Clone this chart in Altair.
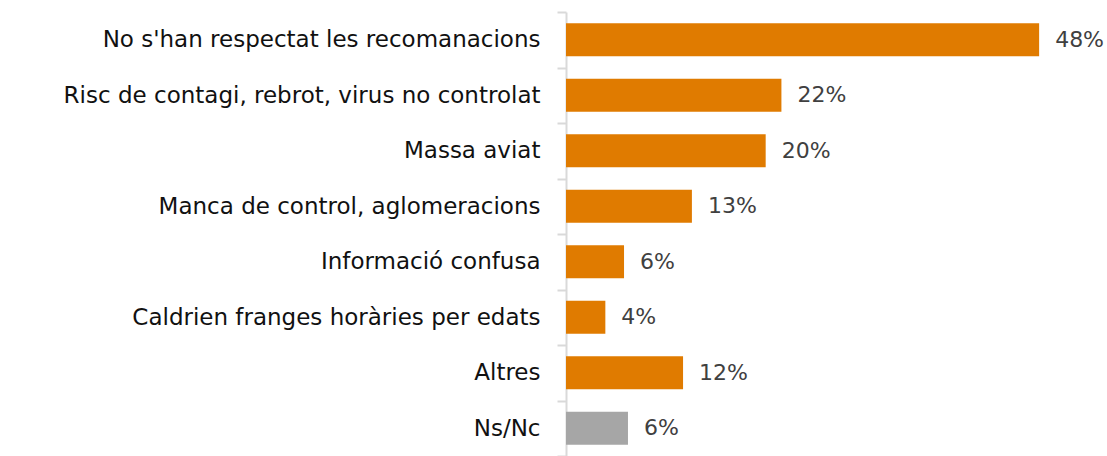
import altair as alt
import pandas as pd

categories = [
    "No s'han respectat les recomanacions",
    "Risc de contagi, rebrot, virus no controlat",
    "Massa aviat",
    "Manca de control, aglomeracions",
    "Informació confusa",
    "Caldrien franges horàries per edats",
    "Altres",
    "Ns/Nc",
]
values = [48.1, 21.9, 20.3, 12.8, 5.9, 4.0, 11.9, 6.3]
labels = ["48%", "22%", "20%", "13%", "6%", "4%", "12%", "6%"]
groups = ["main"] * 7 + ["nsnc"]

df = pd.DataFrame({"cat": categories, "val": values, "lab": labels, "grp": groups})

y = alt.Y(
    "cat:N",
    sort=categories,
    title=None,
    scale=alt.Scale(paddingInner=0, paddingOuter=0),
    axis=alt.Axis(
        labelFont="DejaVu Sans",
        labelFontSize=23,
        labelColor="#111111",
        labelPadding=17,
        labelLimit=700,
        tickSize=9,
        tickColor="#D9D9D9",
        tickWidth=2,
        tickBand="extent",
        domainColor="#D9D9D9",
        domainWidth=2,
        grid=False,
    ),
)
x = alt.X("val:Q", scale=alt.Scale(domain=[0, 55]), axis=None)

bars = alt.Chart(df).mark_bar(height={"band": 0.595}).encode(
    y=y,
    x=x,
    color=alt.Color(
        "grp:N",
        scale=alt.Scale(domain=["main", "nsnc"], range=["#E07B00", "#A6A6A6"]),
        legend=None,
    ),
)

text = alt.Chart(df).mark_text(
    align="left", baseline="middle", dx=16, font="DejaVu Sans", fontSize=22, color="#404040"
).encode(y=alt.Y("cat:N", sort=categories), x=x, text="lab:N")

chart = (
    alt.layer(bars, text)
    .properties(
        width=541,
        height=444,
        autosize=alt.AutoSizeParams(type="none"),
        padding={"left": 566, "top": 12, "right": 0, "bottom": 0},
    )
    .configure_view(stroke=None)
)

chart.save("out.html", embed_options={"renderer": "svg", "actions": False})
